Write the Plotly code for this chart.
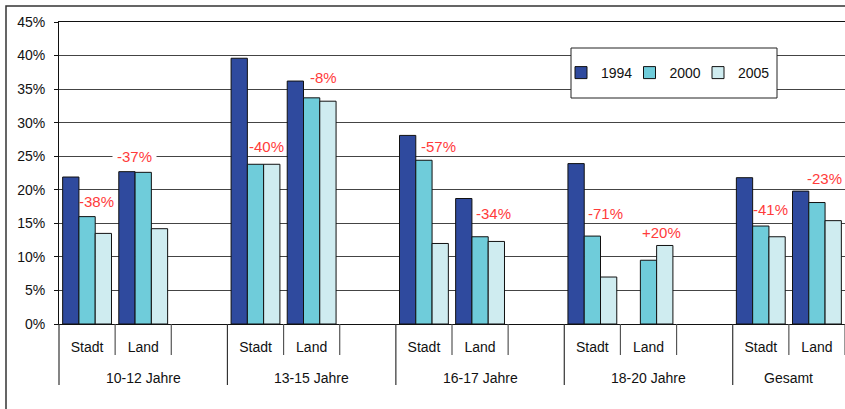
import plotly.graph_objects as go

# ---- data ----
groups = ["10-12 Jahre", "13-15 Jahre", "16-17 Jahre", "18-20 Jahre", "Gesamt"]
areas = ["Stadt", "Land"]
years = ["1994", "2000", "2005"]
v1994 = [21.9, 22.7, 39.6, 36.2, 28.1, 18.7, 23.9, None, 21.8, 19.8]
v2000 = [16.0, 22.6, 23.8, 33.7, 24.4, 13.0, 13.1, 9.5, 14.6, 18.1]
v2005 = [13.5, 14.2, 23.8, 33.2, 12.0, 12.3, 7.0, 11.7, 13.0, 15.4]
changes = ["-38%", "-37%", "-40%", "-8%", "-57%", "-34%", "-71%", "+20%", "-41%", "-23%"]
y_ticks = [0, 5, 10, 15, 20, 25, 30, 35, 40, 45]
y_ticktext = ["0%", "5%", "10%", "15%", "20%", "25%", "30%", "35%", "40%", "45%"]

# ---- layout helpers ----
colors = ["#2F4A9E", "#6FCCDA", "#CFECF0"]
series = [v1994, v2000, v2005]
slots_per_group = 3
slot_x = [g * slots_per_group + a for g in range(len(groups)) for a in range(len(areas))]
slot_lab = [areas[a] for g in range(len(groups)) for a in range(len(areas))]
x_range = [-0.5, len(groups) * slots_per_group - 1.5]
FONT = "Liberation Sans, Arial, sans-serif"

# label placement (offset within slot, height in %)
label_dx = [0.16, -0.15, 0.20, 0.22, 0.26, 0.24, 0.23, 0.24, 0.18, 0.13]
label_y = [18.3, 24.9, 26.4, 36.8, 26.4, 16.4, 16.4, 13.6, 17.1, 21.75]

fig = go.Figure()
for name, vals, col in zip(years, series, colors):
    fig.add_trace(go.Bar(
        x=slot_x, y=vals, name=name,
        marker=dict(color=col, line=dict(color="#111111", width=1)),
    ))
# invisible spacer entry so the last legend label is not clipped
fig.add_trace(go.Scatter(x=[None], y=[None], mode="markers", name=" ",
                         marker=dict(color="rgba(0,0,0,0)", size=1),
                         hoverinfo="skip"))

W, H = 845, 409
ML, MT, MB, MR = 59, 22, 85, 0
pw = W - ML - MR
ph = H - MT - MB


def px_x(xv):
    return (xv - x_range[0]) / (x_range[1] - x_range[0])


shapes = []
# outer frame
shapes.append(dict(type="rect", xref="paper", yref="paper",
                   x0=(6 - ML) / pw, x1=1.5, y0=-2, y1=1 + (MT - 6) / ph,
                   line=dict(color="#333333", width=1.5), layer="below"))
# separators below x axis
for g in range(len(groups)):
    start = g * slots_per_group - 0.5
    shapes.append(dict(type="line", xref="paper", yref="paper",
                       x0=px_x(start), x1=px_x(start), y0=0, y1=-61 / ph,
                       line=dict(color="#333333", width=1.2)))
    for k in range(1, slots_per_group):
        xb = start + k
        if xb > x_range[1]:
            continue
        shapes.append(dict(type="line", xref="paper", yref="paper",
                           x0=px_x(xb), x1=px_x(xb), y0=0, y1=-31 / ph,
                           line=dict(color="#555555", width=1.2)))
# legend box
shapes.append(dict(type="rect", xref="paper", yref="paper",
                   x0=(571 - ML) / pw, x1=(777 - ML) / pw,
                   y0=1 - (98 - MT) / ph, y1=1 - (48 - MT) / ph,
                   fillcolor="white", line=dict(color="#222222", width=1), layer="above"))

annotations = []
for i, txt in enumerate(changes):
    annotations.append(dict(
        x=slot_x[i] + label_dx[i], y=label_y[i], xref="x", yref="y",
        text=txt, showarrow=False, font=dict(color="#FF3B3B", size=15, family=FONT),
        bgcolor="white" if i == 1 else None,
        borderpad=4 if i == 1 else 0,
        xanchor="center", yanchor="middle"))
for g, name in enumerate(groups):
    n = min(slots_per_group, int(x_range[1] + 0.5) - g * slots_per_group)
    cx = g * slots_per_group + (n - 1) / 2
    annotations.append(dict(
        x=cx, y=-(378 - 324) / ph, xref="x", yref="paper",
        text=name, showarrow=False, font=dict(color="#111111", size=14, family=FONT),
        xanchor="center", yanchor="middle"))

fig.update_layout(
    width=W, height=H,
    margin=dict(l=ML, r=MR, t=MT, b=MB, pad=0),
    paper_bgcolor="white", plot_bgcolor="white",
    font=dict(family=FONT, size=14, color="#111111"),
    barmode="group", bargap=0.13, bargroupgap=0,
    showlegend=True,
    legend=dict(orientation="h", x=(561 - ML) / pw, y=1 - (73 - MT) / ph,
                xanchor="left", yanchor="middle",
                bgcolor="rgba(0,0,0,0)", borderwidth=0,
                font=dict(size=14, family=FONT, color="#111111"),
                entrywidth=23.5, entrywidthmode="pixels"),
    xaxis=dict(range=x_range, tickvals=slot_x, ticktext=slot_lab, ticks="",
               showgrid=False, zeroline=False, showline=True, linecolor="#111111",
               linewidth=1, mirror=True, tickfont=dict(size=14, family=FONT, color="#111111"),
               ticklabelstandoff=10),
    yaxis=dict(range=[0, 45], tickvals=y_ticks, ticktext=y_ticktext, ticks="outside",
               ticklen=4, tickcolor="#111111", showgrid=True, gridcolor="#444444",
               gridwidth=1.2, zeroline=False, showline=True, linecolor="#111111",
               linewidth=1, tickfont=dict(size=14, family=FONT, color="#111111"),
               ticklabelstandoff=6),
    shapes=shapes, annotations=annotations,
)

fig.write_html("out.html", config={"displayModeBar": False},
               post_script="document.body.style.margin='0';document.body.style.overflow='hidden';")
